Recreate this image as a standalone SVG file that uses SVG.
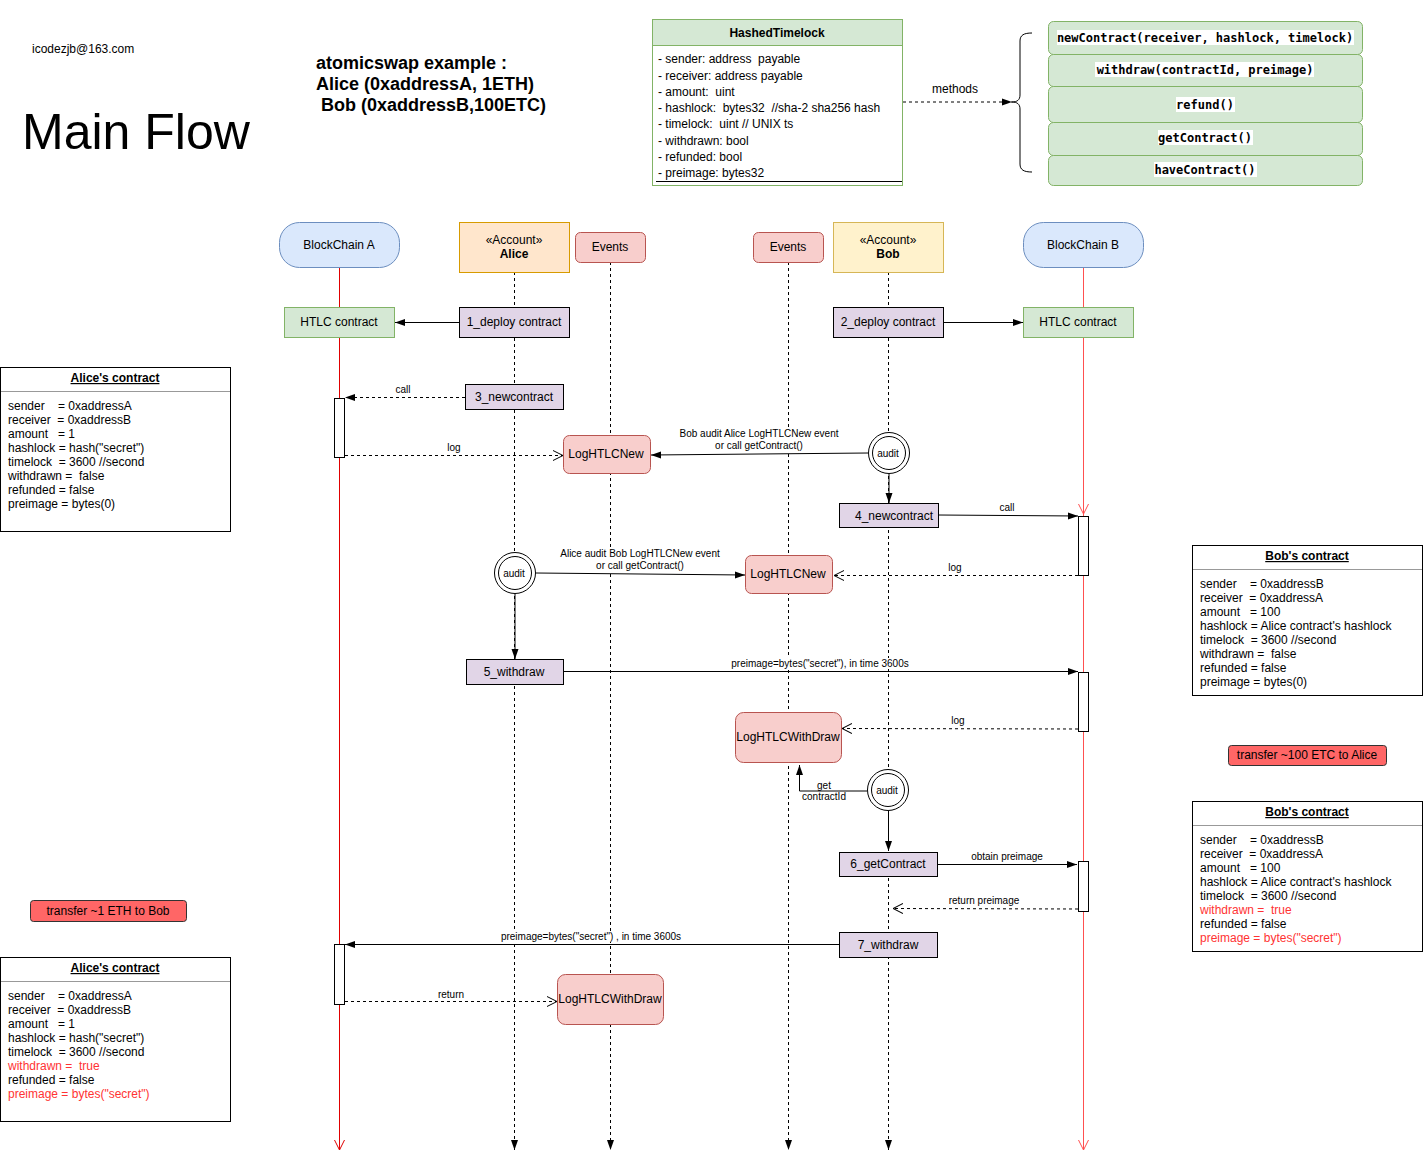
<svg xmlns="http://www.w3.org/2000/svg" width="1423" height="1163" viewBox="0 0 1423 1163">
<style>
text{font-family:"Liberation Sans",Arial,sans-serif;fill:#000;white-space:pre}
.t12{font-size:12px}
.t10{font-size:10px}
.c{text-anchor:middle}
.b{font-weight:bold}
.mono{font-family:"DejaVu Sans Mono",monospace;font-size:12px;font-weight:bold}
.green{fill:#d5e8d4;stroke:#82b366}
.blue{fill:#dae8fc;stroke:#6c8ebf}
.pink{fill:#f8cecc;stroke:#b85450}
.purple{fill:#e1d5e7;stroke:#000}
.ln{fill:none;stroke:#000;stroke-width:1}
.dash{fill:none;stroke:#000;stroke-dasharray:3 3}
.life{fill:none;stroke:#000;stroke-dasharray:3 3}
.act{fill:#fff;stroke:#000}
.box{fill:#fff;stroke:#000}
.bg{fill:#fff}
</style>
<defs>
<marker id="blk" markerUnits="userSpaceOnUse" viewBox="0 0 10 10" refX="10" refY="5" markerWidth="10" markerHeight="10" orient="auto"><path d="M0,1.5 L10,5 L0,8.5 Z" fill="#000"/></marker>
<marker id="opn" markerUnits="userSpaceOnUse" viewBox="0 0 10 12" refX="10" refY="6" markerWidth="10" markerHeight="12" orient="auto"><path d="M0,1 L10,6 L0,11" fill="none" stroke="#000"/></marker>
<marker id="redA" markerUnits="userSpaceOnUse" viewBox="0 0 10 12" refX="10" refY="6" markerWidth="10" markerHeight="12" orient="auto"><path d="M0,1 L10,6 L0,11" fill="none" stroke="#e00000"/></marker>
<marker id="redB" markerUnits="userSpaceOnUse" viewBox="0 0 10 12" refX="10" refY="6" markerWidth="10" markerHeight="12" orient="auto"><path d="M0,1 L10,6 L0,11" fill="none" stroke="#ff5050"/></marker>
</defs>
<rect width="1423" height="1163" fill="#fff"/>

<g id="header">
<text x="32" y="53" class="t12">icodezjb@163.com</text>
<text x="22" y="149" style="font-size:50px">Main Flow</text>
<text x="316" y="69" class="b" style="font-size:18px">atomicswap example :</text>
<text x="316" y="90" class="b" style="font-size:18px">Alice (0xaddressA, 1ETH)</text>
<text x="316" y="111" class="b" style="font-size:18px"> Bob (0xaddressB,100ETC)</text>
</g>

<g id="hashedtimelock">
<rect x="652.5" y="19.5" width="250" height="166" fill="#fff" stroke="#82b366"/>
<rect x="652.5" y="19.5" width="250" height="26" class="green"/>
<text x="777" y="37" class="t12 b c">HashedTimelock</text>
<text x="658" y="63" class="t12">- sender: address  payable</text>
<text x="658" y="80" class="t12">- receiver: address payable</text>
<text x="658" y="96" class="t12">- amount:  uint</text>
<text x="658" y="112" class="t12">- hashlock:  bytes32  //sha-2 sha256 hash</text>
<text x="658" y="128" class="t12">- timelock:  uint // UNIX ts</text>
<text x="658" y="145" class="t12">- withdrawn: bool</text>
<text x="658" y="161" class="t12">- refunded: bool</text>
<text x="658" y="177" class="t12">- preimage: bytes32</text>
<line x1="656" y1="181.5" x2="902" y2="181.5" stroke="#000"/>
</g>

<g id="methods">
<path d="M1032,33 C1024,33 1020,35 1020,41 L1020,95 C1020,100 1017,102 1012,102 C1017,102 1020,104 1020,109 L1020,164 C1020,170 1024,172 1032,172" class="ln"/>
<rect x="1048.5" y="21.5" width="314" height="33" rx="5" class="green"/>
<rect x="1048.5" y="54.5" width="314" height="32" rx="5" class="green"/>
<rect x="1048.5" y="86.5" width="314" height="36" rx="5" class="green"/>
<rect x="1048.5" y="122.5" width="314" height="33" rx="5" class="green"/>
<rect x="1048.5" y="155.5" width="314" height="30" rx="5" class="green"/>
<rect x="1057" y="30" width="297" height="15" fill="#fff"/>
<rect x="1095" y="62" width="219" height="15" fill="#fff"/>
<rect x="1176" y="97" width="59" height="15" fill="#fff"/>
<rect x="1158" y="130" width="95" height="15" fill="#fff"/>
<rect x="1154" y="162" width="103" height="15" fill="#fff"/>
<text x="1205" y="42" class="mono c">newContract(receiver, hashlock, timelock)</text>
<text x="1205" y="74" class="mono c">withdraw(contractId, preimage)</text>
<text x="1205" y="109" class="mono c">refund()</text>
<text x="1205" y="142" class="mono c">getContract()</text>
<text x="1205" y="174" class="mono c">haveContract()</text>
</g>

<g id="connectors">
<line x1="339.5" y1="267" x2="339.5" y2="1150" stroke="#e00000" marker-end="url(#redA)"/>
<line x1="1083.5" y1="267" x2="1083.5" y2="1150" stroke="#ff5050" marker-end="url(#redB)"/>
<line x1="1083.5" y1="267" x2="1083.5" y2="514" stroke="#ff5050" marker-end="url(#redB)"/>
<line x1="514.5" y1="272" x2="514.5" y2="1150" class="life" marker-end="url(#blk)"/>
<line x1="610.5" y1="262" x2="610.5" y2="1150" class="life" marker-end="url(#blk)"/>
<line x1="788.5" y1="262" x2="788.5" y2="1150" class="life" marker-end="url(#blk)"/>
<line x1="888.5" y1="272" x2="888.5" y2="1150" class="life" marker-end="url(#blk)"/>

<line x1="459" y1="322.5" x2="395" y2="322.5" class="ln" marker-end="url(#blk)"/>
<line x1="943" y1="322.5" x2="1023" y2="322.5" class="ln" marker-end="url(#blk)"/>
<line x1="903" y1="102" x2="1012" y2="102" class="dash" marker-end="url(#blk)"/>
<text x="955" y="93" class="t12 c">methods</text>

<line x1="465" y1="397.5" x2="345" y2="397.5" class="dash" marker-end="url(#blk)"/>
<text x="403" y="393" class="t10 c">call</text>
<line x1="345" y1="455.5" x2="563" y2="455.5" class="dash" marker-end="url(#opn)"/>
<text x="454" y="451" class="t10 c">log</text>

<line x1="868" y1="453" x2="651" y2="455" class="ln" marker-end="url(#blk)"/>
<rect x="679" y="428" width="160" height="23" class="bg"/>
<text x="759" y="437" class="t10 c">Bob audit Alice LogHTLCNew event</text>
<text x="759" y="449" class="t10 c">or call getContract()</text>
<line x1="889" y1="474" x2="889" y2="503" class="ln" marker-end="url(#blk)"/>
<line x1="938" y1="515" x2="1078" y2="516" class="ln" marker-end="url(#blk)"/>
<text x="1007" y="511" class="t10 c">call</text>
<line x1="1078" y1="575.5" x2="834" y2="575.5" class="dash" marker-end="url(#opn)"/>
<text x="955" y="571" class="t10 c">log</text>

<line x1="536" y1="573" x2="745" y2="575" class="ln" marker-end="url(#blk)"/>
<rect x="560" y="548" width="160" height="23" class="bg"/>
<text x="640" y="557" class="t10 c">Alice audit Bob LogHTLCNew event</text>
<text x="640" y="569" class="t10 c">or call getContract()</text>
<line x1="515" y1="594" x2="515" y2="659" class="ln" marker-end="url(#blk)"/>
<line x1="563" y1="671.5" x2="1078" y2="671.5" class="ln" marker-end="url(#blk)"/>
<rect x="730" y="658" width="180" height="11" class="bg"/>
<text x="820" y="667" class="t10 c">preimage=bytes("secret"), in time 3600s</text>
<line x1="1078" y1="729" x2="842" y2="728.5" class="dash" marker-end="url(#opn)"/>
<text x="958" y="724" class="t10 c">log</text>

<path d="M867,791 L799.5,791 L799.5,765" class="ln" marker-end="url(#blk)"/>
<text x="824" y="789" class="t10 c">get</text>
<text x="824" y="800" class="t10 c">contractId</text>
<line x1="888.5" y1="811" x2="888.5" y2="851" class="ln" marker-end="url(#blk)"/>
<line x1="937" y1="864.5" x2="1077" y2="864.5" class="ln" marker-end="url(#blk)"/>
<text x="1007" y="860" class="t10 c">obtain preimage</text>
<line x1="1078" y1="909" x2="893" y2="908.5" class="dash" marker-end="url(#opn)"/>
<text x="984" y="904" class="t10 c">return preimage</text>

<line x1="839" y1="944.5" x2="345" y2="944.5" class="ln" marker-end="url(#blk)"/>
<rect x="500" y="931" width="182" height="11" class="bg"/>
<text x="591" y="940" class="t10 c">preimage=bytes("secret") , in time 3600s</text>
<line x1="345" y1="1001.5" x2="557" y2="1001.5" class="dash" marker-end="url(#opn)"/>
<text x="451" y="998" class="t10 c">return</text>
</g>

<g id="blockchainA"><rect x="279.5" y="222.5" width="120" height="45" rx="20" class="blue"/><text x="339" y="249" class="t12 c">BlockChain A</text></g>
<g id="alice"><rect x="459.5" y="222.5" width="110" height="50" fill="#ffe6cc" stroke="#d79b00"/><text x="514" y="244" class="t12 c">«Account»</text><text x="514" y="258" class="t12 c b">Alice</text></g>
<g id="eventsA"><rect x="575.5" y="232.5" width="70" height="30" rx="5" class="pink"/><text x="610" y="251" class="t12 c">Events</text></g>
<g id="eventsB"><rect x="753.5" y="232.5" width="70" height="30" rx="5" class="pink"/><text x="788" y="251" class="t12 c">Events</text></g>
<g id="bob"><rect x="833.5" y="222.5" width="110" height="50" fill="#fff2cc" stroke="#d6b656"/><text x="888" y="244" class="t12 c">«Account»</text><text x="888" y="258" class="t12 c b">Bob</text></g>
<g id="blockchainB"><rect x="1023.5" y="222.5" width="120" height="45" rx="20" class="blue"/><text x="1083" y="249" class="t12 c">BlockChain B</text></g>

<g id="htlcA"><rect x="284.5" y="307.5" width="110" height="30" class="green"/><text x="339" y="326" class="t12 c">HTLC contract</text></g>
<g id="htlcB"><rect x="1023.5" y="307.5" width="110" height="30" class="green"/><text x="1078" y="326" class="t12 c">HTLC contract</text></g>
<g id="deploy1"><rect x="459.5" y="307.5" width="110" height="30" class="purple"/><text x="514" y="326" class="t12 c">1_deploy contract</text></g>
<g id="deploy2"><rect x="833.5" y="307.5" width="110" height="30" class="purple"/><text x="888" y="326" class="t12 c">2_deploy contract</text></g>

<g id="actA1"><rect x="334.5" y="398.5" width="10" height="59" class="act"/></g>
<g id="actA2"><rect x="334.5" y="944.5" width="10" height="60" class="act"/></g>
<g id="actB1"><rect x="1078.5" y="516.5" width="10" height="59" class="act"/></g>
<g id="actB2"><rect x="1078.5" y="672.5" width="10" height="59" class="act"/></g>
<g id="actB3"><rect x="1078.5" y="861.5" width="10" height="50" class="act"/></g>

<g id="newcontract3"><rect x="465.5" y="384.5" width="98" height="25" class="purple"/><text x="514" y="401" class="t12 c">3_newcontract</text></g>
<g id="logNewA"><rect x="563.5" y="435.5" width="87" height="38" rx="6" class="pink"/><text x="606" y="458" class="t12 c">LogHTLCNew</text></g>
<g id="auditBob1"><circle cx="889" cy="453" r="20.5" fill="#fff" stroke="#000"/><circle cx="889" cy="453" r="16.5" fill="none" stroke="#000"/><text x="888" y="457" class="t10 c">audit</text></g>
<g id="newcontract4"><rect x="839.5" y="503.5" width="99" height="24" class="purple"/><text x="894" y="520" class="t12 c">4_newcontract</text></g>
<g id="logNewB"><rect x="745.5" y="555.5" width="87" height="38" rx="6" class="pink"/><text x="788" y="578" class="t12 c">LogHTLCNew</text></g>
<g id="auditAlice"><circle cx="515" cy="573" r="20.5" fill="#fff" stroke="#000"/><circle cx="515" cy="573" r="16.5" fill="none" stroke="#000"/><text x="514" y="577" class="t10 c">audit</text></g>
<g id="withdraw5"><rect x="466.5" y="659.5" width="97" height="25" class="purple"/><text x="514" y="676" class="t12 c">5_withdraw</text></g>
<g id="logWithdrawB"><rect x="735.5" y="712.5" width="106" height="50" rx="8" class="pink"/><text x="788" y="741" class="t12 c">LogHTLCWithDraw</text></g>
<g id="auditBob2"><circle cx="888" cy="790" r="20.5" fill="#fff" stroke="#000"/><circle cx="888" cy="790" r="16.5" fill="none" stroke="#000"/><text x="887" y="794" class="t10 c">audit</text></g>
<g id="getContract6"><rect x="839.5" y="852.5" width="98" height="24" class="purple"/><text x="888" y="868" class="t12 c">6_getContract</text></g>
<g id="withdraw7"><rect x="839.5" y="932.5" width="98" height="25" class="purple"/><text x="888" y="949" class="t12 c">7_withdraw</text></g>
<g id="logWithdrawA"><rect x="557.5" y="974.5" width="106" height="50" rx="8" class="pink"/><text x="610" y="1003" class="t12 c">LogHTLCWithDraw</text></g>

<g id="transferEth"><rect x="30.5" y="900.5" width="156" height="21" rx="3" fill="#ff6666" stroke="#333"/><text x="108" y="915" class="t12 c">transfer ~1 ETH to Bob</text></g>
<g id="transferEtc"><rect x="1228.5" y="745.5" width="158" height="20" rx="3" fill="#ff6666" stroke="#333"/><text x="1307" y="759" class="t12 c">transfer ~100 ETC to Alice</text></g>

<g id="aliceContract1">
<rect x="0.5" y="367.5" width="230" height="164" class="box"/>
<line x1="1" y1="391.5" x2="230" y2="391.5" stroke="#999"/>
<text x="115" y="382" class="t12 c b" text-decoration="underline">Alice's contract</text>
<text x="8" y="410" class="t12">sender    = 0xaddressA</text>
<text x="8" y="424" class="t12">receiver  = 0xaddressB</text>
<text x="8" y="438" class="t12">amount   = 1</text>
<text x="8" y="452" class="t12">hashlock = hash("secret")</text>
<text x="8" y="466" class="t12">timelock  = 3600 //second</text>
<text x="8" y="480" class="t12">withdrawn =  false</text>
<text x="8" y="494" class="t12">refunded = false</text>
<text x="8" y="508" class="t12">preimage = bytes(0)</text>
</g>
<g id="aliceContract2">
<rect x="0.5" y="957.5" width="230" height="164" class="box"/>
<line x1="1" y1="981.5" x2="230" y2="981.5" stroke="#999"/>
<text x="115" y="972" class="t12 c b" text-decoration="underline">Alice's contract</text>
<text x="8" y="1000" class="t12">sender    = 0xaddressA</text>
<text x="8" y="1014" class="t12">receiver  = 0xaddressB</text>
<text x="8" y="1028" class="t12">amount   = 1</text>
<text x="8" y="1042" class="t12">hashlock = hash("secret")</text>
<text x="8" y="1056" class="t12">timelock  = 3600 //second</text>
<text x="8" y="1070" class="t12" style="fill:#ff3333">withdrawn =  true</text>
<text x="8" y="1084" class="t12">refunded = false</text>
<text x="8" y="1098" class="t12" style="fill:#ff3333">preimage = bytes("secret")</text>
</g>
<g id="bobContract1">
<rect x="1192.5" y="545.5" width="230" height="150" class="box"/>
<line x1="1193" y1="569.5" x2="1422" y2="569.5" stroke="#999"/>
<text x="1307" y="560" class="t12 c b" text-decoration="underline">Bob's contract</text>
<text x="1200" y="588" class="t12">sender    = 0xaddressB</text>
<text x="1200" y="602" class="t12">receiver  = 0xaddressA</text>
<text x="1200" y="616" class="t12">amount   = 100</text>
<text x="1200" y="630" class="t12">hashlock = Alice contract's hashlock</text>
<text x="1200" y="644" class="t12">timelock  = 3600 //second</text>
<text x="1200" y="658" class="t12">withdrawn =  false</text>
<text x="1200" y="672" class="t12">refunded = false</text>
<text x="1200" y="686" class="t12">preimage = bytes(0)</text>
</g>
<g id="bobContract2">
<rect x="1192.5" y="801.5" width="230" height="150" class="box"/>
<line x1="1193" y1="825.5" x2="1422" y2="825.5" stroke="#999"/>
<text x="1307" y="816" class="t12 c b" text-decoration="underline">Bob's contract</text>
<text x="1200" y="844" class="t12">sender    = 0xaddressB</text>
<text x="1200" y="858" class="t12">receiver  = 0xaddressA</text>
<text x="1200" y="872" class="t12">amount   = 100</text>
<text x="1200" y="886" class="t12">hashlock = Alice contract's hashlock</text>
<text x="1200" y="900" class="t12">timelock  = 3600 //second</text>
<text x="1200" y="914" class="t12" style="fill:#ff3333">withdrawn =  true</text>
<text x="1200" y="928" class="t12">refunded = false</text>
<text x="1200" y="942" class="t12" style="fill:#ff3333">preimage = bytes("secret")</text>
</g>
</svg>
